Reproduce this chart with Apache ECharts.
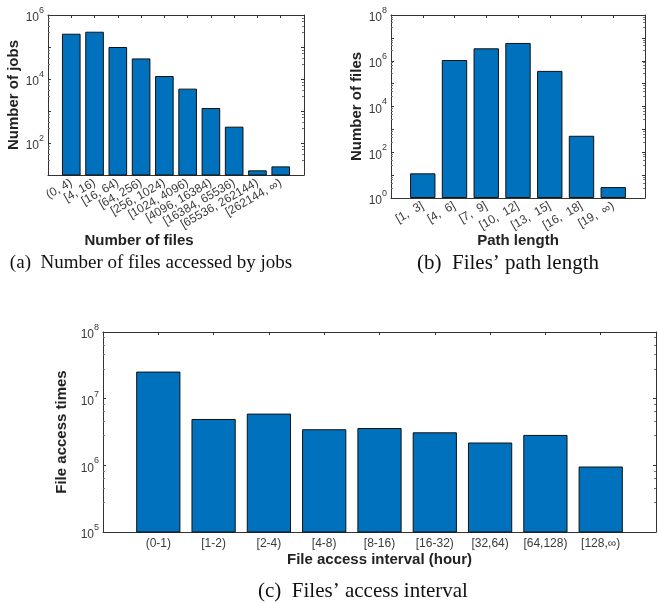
<!DOCTYPE html>
<html>
<head>
<meta charset="utf-8">
<script src="https://cdn.jsdelivr.net/npm/echarts@6/dist/echarts.min.js"></script>
<style>
html,body{margin:0;padding:0;background:#fff;}
#c{width:659px;height:603px;}
</style>
</head>
<body>
<div id="c"></div>
<script>
// ---- data ----
var filesCats = ['(0, 4)', '[4, 16)', '[16, 64)', '[64, 256)', '[256, 1024)', '[1024, 4096)', '[4096, 16384)', '[16384, 65536)', '[65536, 262144)', '[262144, \u221e)'];
var jobsCounts = [2.6e5, 3.0e5, 1.0e5, 4.4e4, 1.24e4, 5.0e3, 1.24e3, 324, 14, 18.6];

var pathCats = ['[1,  3]', '[4,  6]', '[7,  9]', '[10,  12]', '[13,  15]', '[16,  18]', '[19,  \u221e)'];
var fileCounts = [12, 1.08e6, 3.5e6, 6.0e6, 3.6e5, 525, 3];

var intervalCats = ['(0-1)', '[1-2)', '[2-4)', '[4-8)', '[8-16)', '[16-32)', '[32,64)', '[64,128)', '[128,\u221e)'];
var accessTimes = [2.55e7, 4.96e6, 5.97e6, 3.48e6, 3.63e6, 3.13e6, 2.2e6, 2.86e6, 9.6e5];

var captions = ['(a)  Number of files accessed by jobs', '(b)  Files\u2019 path length', '(c)  Files\u2019 access interval'];

// ---- helpers ----
var AX = '#333333';
var LBL = '#3a3a3a';
var SANS = 'Liberation Sans';
function pad(arr, fill) { return [fill].concat(arr).concat([fill]); }
function supFmt(skipOdd) {
  return function (v) {
    var e = Math.round(Math.log10(v));
    if (skipOdd && e % 2 !== 0) return '';
    return '{b|10}{s|' + e + '}';
  };
}
var supRich = {
  b: { fontSize: 12, fontFamily: SANS, color: LBL, lineHeight: 18, verticalAlign: 'bottom' },
  s: { fontSize: 9, fontFamily: SANS, color: LBL, lineHeight: 18, verticalAlign: 'top' }
};

var grids = [
  { left: 48, right: 355, top: 15, bottom: 428 },
  { left: 391, right: 14, top: 15, bottom: 405 },
  { left: 103, right: -1, top: 332, bottom: 71 }
];

var xAxes = [], yAxes = [], series = [];
var NAMEFS = 15;

function addChart(gi, cats, vals, opt) {
  var pc = pad(cats, '');
  var n = pc.length;
  var tickFn = function (idx) { return idx > 0 && idx < n - 1; };
  xAxes.push({
    type: 'category', gridIndex: gi, data: pc, boundaryGap: false, position: 'bottom',
    axisLine: { lineStyle: { color: AX, width: 1 } },
    axisTick: { inside: true, length: 3, interval: tickFn, lineStyle: { color: AX } },
    axisLabel: { interval: 0, rotate: opt.rotate, fontSize: 12, fontFamily: SANS, color: LBL, margin: opt.labelMargin },
    splitLine: { show: false },
    name: opt.xName, nameLocation: 'middle', nameGap: opt.xNameGap, nameMoveOverlap: false,
    nameTextStyle: { fontSize: NAMEFS, fontWeight: 'bold', fontFamily: SANS, color: '#222', padding: opt.xNamePad || 0 }
  });
  xAxes.push({
    type: 'category', gridIndex: gi, data: pc, boundaryGap: false, position: 'top',
    axisLine: { lineStyle: { color: AX, width: 1 } },
    axisTick: { inside: true, length: 3, interval: tickFn, lineStyle: { color: AX } },
    axisLabel: { show: false }, splitLine: { show: false }
  });
  var yBase = {
    type: 'log', logBase: 10, gridIndex: gi, min: opt.yMin, max: opt.yMax, splitNumber: opt.split,
    axisLine: { show: true, lineStyle: { color: AX, width: 1 } },
    axisTick: { show: true, inside: true, length: 3, lineStyle: { color: AX } },
    minorTick: { show: true, splitNumber: 5, length: 2, lineStyle: { color: '#777' } },
    splitLine: { show: false }
  };
  yAxes.push(Object.assign({}, yBase, {
    position: 'left',
    axisLabel: { formatter: supFmt(opt.skipOdd), rich: supRich, margin: 4 },
    name: opt.yName, nameLocation: 'middle', nameGap: opt.yNameGap, nameRotate: 90,
    nameTextStyle: { fontSize: NAMEFS, fontWeight: 'bold', fontFamily: SANS, color: '#222' }
  }));
  yAxes.push(Object.assign({}, yBase, { position: 'right', axisLabel: { show: false } }));
  series.push({
    type: 'bar', xAxisIndex: xAxes.length - 2, yAxisIndex: yAxes.length - 2,
    data: pad(vals, '-'), barWidth: '80%', clip: true, silent: true,
    itemStyle: { color: '#0072BD', borderColor: '#111', borderWidth: 1 }
  });
}

addChart(0, filesCats, jobsCounts, {
  rotate: 30, labelMargin: 7, xName: 'Number of files', xNameGap: 58, xNamePad: [0, 74, 0, 0],
  yMin: 10, yMax: 1e6, split: 5, skipOdd: true, yName: 'Number of jobs', yNameGap: 19
});
addChart(1, pathCats, fileCounts, {
  rotate: 30, labelMargin: 7, xName: 'Path length', xNameGap: 35,
  yMin: 1, yMax: 1e8, split: 8, skipOdd: true, yName: 'Number of files', yNameGap: 20
});
addChart(2, intervalCats, accessTimes, {
  rotate: 0, labelMargin: 6, xName: 'File access interval (hour)', xNameGap: 20,
  yMin: 1e5, yMax: 1e8, split: 3, skipOdd: false, yName: 'File access times', yNameGap: 21
});

var titles = [
  { text: captions[0], left: 151, top: 254, size: 19 },
  { text: captions[1], left: 508, top: 253, size: 21 },
  { text: captions[2], left: 363, top: 581, size: 21 }
].map(function (t) {
  return {
    text: t.text, left: t.left, top: t.top, textAlign: 'center', padding: 0,
    textStyle: { fontFamily: 'Liberation Serif', fontWeight: 'normal', fontSize: t.size, color: '#111' }
  };
});

var chart = echarts.init(document.getElementById('c'), null, { renderer: 'canvas' });
chart.setOption({
  animation: false,
  backgroundColor: '#fff',
  title: titles,
  grid: grids,
  xAxis: xAxes,
  yAxis: yAxes,
  series: series
});
</script>
</body>
</html>
